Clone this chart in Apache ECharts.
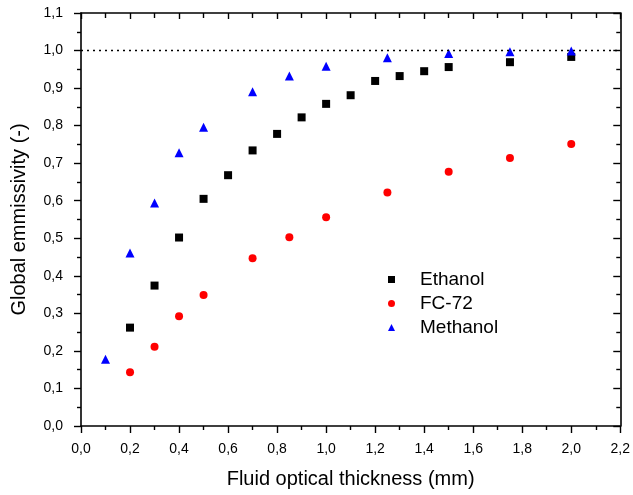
<!DOCTYPE html>
<html>
<head>
<meta charset="utf-8">
<script src="https://cdn.jsdelivr.net/npm/echarts@6/dist/echarts.min.js"></script>
<style>html,body{margin:0;padding:0;background:#fff;}#c{width:633px;height:495px;}</style>
</head>
<body>
<div id="c"></div>
<script>
var ethanolX = [0.2,0.3,0.4,0.5,0.6,0.7,0.8,0.9,1.0,1.1,1.2,1.3,1.4,1.5,1.75,2.0];
var ethanolY = [0.262,0.374,0.502,0.605,0.668,0.734,0.778,0.822,0.858,0.881,0.919,0.932,0.945,0.956,0.969,0.983];
var fc72X = [0.2,0.3,0.4,0.5,0.7,0.85,1.0,1.25,1.5,1.75,2.0];
var fc72Y = [0.143,0.211,0.292,0.349,0.447,0.503,0.556,0.622,0.677,0.714,0.751];
var methanolX = [0.1,0.2,0.3,0.4,0.5,0.7,0.85,1.0,1.25,1.5,1.75,2.0];
var methanolY = [0.178,0.461,0.594,0.728,0.796,0.890,0.932,0.958,0.981,0.992,0.997,0.999];
var referenceLevel = 1.0;

function pairs(xs, ys){ return xs.map(function(x,i){ return [x, ys[i]]; }); }
function fmt(v){ return v.toFixed(1).replace('.', ','); }
var FONT = "'Liberation Sans', Arial, sans-serif";
var axisLine = {show:true, onZero:false, lineStyle:{color:'#000', width:1.6}};

var chart = echarts.init(document.getElementById('c'), null, {renderer:'canvas'});
chart.setOption({
  animation:false,
  backgroundColor:'#fff',
  textStyle:{fontFamily:FONT},
  grid:{left:81, right:11, top:13, bottom:69, containLabel:false},
  legend:{
    left:383, top:265, orient:'vertical', itemGap:5,
    itemWidth:7, itemHeight:7,
    textStyle:{fontSize:19, color:'#000', fontFamily:FONT, padding:[0,0,0,20]},
    data:['Ethanol','FC-72','Methanol']
  },
  xAxis:[{
    type:'value', min:0, max:2.2, interval:0.2, position:'bottom',
    name:'Fluid optical thickness (mm)', nameLocation:'middle', nameGap:43,
    nameTextStyle:{fontSize:20, color:'#000', fontFamily:FONT},
    axisLine:axisLine,
    axisTick:{show:true, inside:false, length:7, lineStyle:{color:'#000', width:1.4}},
    minorTick:{show:true, splitNumber:2, length:4, lineStyle:{color:'#000', width:1.4}},
    axisLabel:{fontSize:14, color:'#000', margin:16, formatter:fmt},
    splitLine:{show:false}
  },{
    type:'value', min:0, max:2.2, interval:0.2, position:'top',
    axisLine:axisLine,
    axisTick:{show:true, inside:true, length:6, lineStyle:{color:'#000', width:1.4}},
    minorTick:{show:true, splitNumber:2, length:5, lineStyle:{color:'#000', width:1.4}},
    axisLabel:{show:false}, splitLine:{show:false}
  }],
  yAxis:[{
    type:'value', min:0, max:1.1, interval:0.1, position:'left',
    name:'Global emmissivity (-)', nameLocation:'middle', nameGap:52, nameRotate:90,
    nameTextStyle:{fontSize:20, color:'#000', fontFamily:FONT},
    axisLine:axisLine,
    axisTick:{show:true, inside:false, length:7, lineStyle:{color:'#000', width:1.4}},
    minorTick:{show:true, splitNumber:2, length:4, lineStyle:{color:'#000', width:1.4}},
    axisLabel:{fontSize:14, color:'#000', margin:18, formatter:fmt},
    splitLine:{show:false}
  },{
    type:'value', min:0, max:1.1, interval:0.1, position:'right',
    axisLine:axisLine,
    axisTick:{show:true, inside:true, length:7, lineStyle:{color:'#000', width:1.4}},
    minorTick:{show:true, splitNumber:2, length:4, lineStyle:{color:'#000', width:1.4}},
    axisLabel:{show:false}, splitLine:{show:false}
  }],
  series:[{
    name:'Ethanol', type:'scatter', symbol:'rect', symbolSize:8,
    itemStyle:{color:'#000', opacity:1}, data:pairs(ethanolX, ethanolY),
    markLine:{
      silent:true, symbol:'none', label:{show:false},
      lineStyle:{type:[2,4], color:'#000', width:1.3},
      data:[{yAxis:referenceLevel}]
    },
    z:3
  },{
    name:'FC-72', type:'scatter', symbol:'circle', symbolSize:8,
    itemStyle:{color:'#ff0000', opacity:1}, data:pairs(fc72X, fc72Y)
  },{
    name:'Methanol', type:'scatter', symbol:'triangle', symbolSize:9,
    itemStyle:{color:'#0000ff', opacity:1}, data:pairs(methanolX, methanolY), z:4
  }]
});
</script>
</body>
</html>
